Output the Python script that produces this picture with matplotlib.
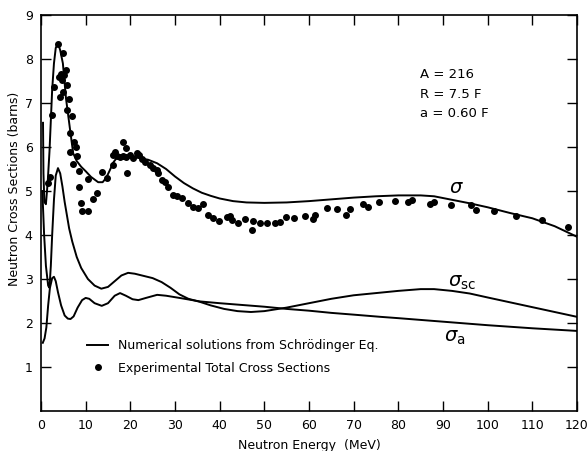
import numpy as np
import matplotlib
matplotlib.use('Agg')
import matplotlib.pyplot as plt

# total cross section (calculated)
tot_e = [0.45, 0.55, 0.75, 1.1, 1.5, 1.9, 2.2, 2.5, 2.9, 3.3, 3.8, 4.3, 4.9, 5.6, 6.5, 7.2,
         8.0, 9.0, 10.0, 11.2, 12.8, 13.8, 14.6, 15.4, 16.2, 17.0, 18.0, 20.0, 22.0, 24.0,
         26.0, 28.0, 30.0, 32.0, 34.0, 36.0, 38.0, 40.0, 43.0, 46.0, 50.0, 55.0, 60.0, 65.0,
         70.0, 75.0, 80.0, 85.0, 88.0, 92.0, 96.0, 100.0, 105.0, 110.0, 115.0, 120.0]
tot_s = [6.55, 5.4, 4.75, 4.7, 5.2, 5.9, 6.6, 7.3, 7.9, 8.25, 8.36, 8.2, 7.9, 7.1, 6.4, 5.86,
         5.68, 5.55, 5.45, 5.32, 5.2, 5.2, 5.3, 5.47, 5.65, 5.76, 5.8, 5.78, 5.75, 5.71,
         5.63, 5.5, 5.33, 5.18, 5.06, 4.96, 4.89, 4.83, 4.77, 4.74, 4.73, 4.74, 4.77, 4.81,
         4.85, 4.88, 4.9, 4.9, 4.88, 4.8, 4.72, 4.63, 4.5, 4.38, 4.2, 3.96]

# scattering cross section
sc_e = [0.3, 0.7, 1.1, 1.6, 1.9, 2.2, 2.5, 2.9, 3.3, 3.8, 4.3, 4.8, 5.3, 5.8, 6.3, 7.0,
        8.0, 9.0, 10.5, 12.0, 13.5, 15.0, 16.5, 18.0, 19.5, 21.0, 23.0, 25.0, 27.0, 29.0,
        31.0, 33.0, 35.6, 38.0, 41.0, 44.0, 47.0, 50.0, 55.0, 60.0, 65.0, 70.0, 75.0, 80.0,
        85.0, 88.0, 92.0, 96.0, 100.0, 105.0, 110.0, 115.0, 120.0]
sc_s = [5.0, 4.0, 3.3, 2.85, 2.8, 3.3, 4.0, 4.8, 5.35, 5.52, 5.4, 5.1, 4.75, 4.45, 4.15, 3.85,
        3.5, 3.25, 3.0, 2.85, 2.78, 2.82, 2.95, 3.08, 3.14, 3.12, 3.07, 3.02, 2.93, 2.8,
        2.65, 2.55, 2.48, 2.4, 2.32, 2.27, 2.25, 2.27, 2.35, 2.45, 2.55, 2.63, 2.68, 2.73,
        2.77, 2.77, 2.73, 2.67, 2.58, 2.47, 2.36, 2.25, 2.14]

# absorption cross section
ab_e = [0.4, 0.8, 1.2, 1.6, 2.0, 2.5, 2.9, 3.3, 3.8, 4.5, 5.3, 6.0, 6.6, 7.3, 8.2, 9.2,
        10.0, 10.8, 12.0, 13.6, 15.0, 16.5, 17.7, 19.0, 20.5, 21.8, 23.5, 26.0, 28.0, 31.0,
        35.6, 40.0, 45.0, 50.0, 55.0, 60.0, 65.0, 70.0, 76.0, 80.0, 90.0, 100.0, 110.0, 120.0]
ab_s = [1.55, 1.65, 1.9, 2.4, 2.8, 3.02, 3.05, 2.95, 2.7, 2.4, 2.17, 2.1, 2.09, 2.15, 2.35, 2.52,
        2.57, 2.55, 2.45, 2.39, 2.45, 2.62, 2.68, 2.62, 2.54, 2.52, 2.57, 2.64, 2.62, 2.57,
        2.49, 2.45, 2.41, 2.37, 2.32, 2.28, 2.23, 2.19, 2.14, 2.11, 2.03, 1.95, 1.88, 1.82]

# experimental total cross sections
exp_e = [1.57, 2.01, 2.46, 2.91, 3.81, 4.86, 4.37, 3.92, 5.15, 4.70, 5.60, 5.82, 4.93, 4.25,
         6.38, 5.71, 6.83, 6.49, 7.39, 7.84, 6.49, 8.13, 7.10, 8.57, 8.51, 10.59, 8.95, 9.18,
         10.59, 11.57, 12.47, 13.59, 14.71, 16.12, 18.29, 19.03, 19.25, 16.12, 16.57, 17.01,
         17.69, 18.36, 19.03, 19.92, 20.60, 21.49, 21.94, 22.61, 23.28, 24.40, 25.07, 25.97,
         26.19, 27.09, 27.76, 28.43, 29.55, 30.44, 31.56, 32.91, 34.03, 35.15, 36.27, 37.38,
         38.50, 39.85, 41.64, 42.31, 42.76, 44.10, 45.67, 47.24, 47.46, 49.03, 50.59, 52.38,
         53.50, 54.85, 56.64, 59.10, 60.89, 61.34, 64.03, 66.26, 68.28, 69.17, 72.08, 73.20,
         75.67, 79.25, 82.16, 83.05, 87.08, 87.98, 91.78, 96.26, 97.38, 101.41, 106.33,
         112.15, 117.97]
exp_s = [5.18, 5.32, 6.73, 7.36, 8.34, 8.14, 7.66, 7.59, 7.64, 7.52, 7.75, 7.41, 7.25, 7.14,
         7.09, 6.84, 6.70, 6.32, 6.11, 6.00, 5.89, 5.80, 5.61, 5.45, 5.09, 5.27, 4.73, 4.55,
         4.55, 4.82, 4.95, 5.43, 5.30, 5.59, 6.11, 5.98, 5.41, 5.82, 5.89, 5.80,
         5.77, 5.80, 5.77, 5.82, 5.75, 5.86, 5.82, 5.73, 5.66, 5.59, 5.52, 5.48,
         5.41, 5.25, 5.20, 5.09, 4.91, 4.89, 4.84, 4.73, 4.64, 4.61, 4.70, 4.45,
         4.39, 4.32, 4.41, 4.43, 4.34, 4.27, 4.36, 4.11, 4.32, 4.27, 4.27, 4.27,
         4.30, 4.41, 4.39, 4.43, 4.36, 4.45, 4.61, 4.59, 4.45, 4.59, 4.70, 4.64,
         4.75, 4.77, 4.75, 4.80, 4.70, 4.75, 4.68, 4.68, 4.57, 4.55, 4.43,
         4.34, 4.18]

x_ticks = np.arange(0, 121, 10)
y_ticks = np.arange(1, 10, 1)
params = ['A = 216', 'R = 7.5 F', 'a = 0.60 F']


def main():
  plt.rcParams['font.family'] = ['DejaVu Sans']
  fig = plt.figure(figsize=(5.88, 4.51), dpi=100)
  ax = fig.add_axes([41 / 588, 40 / 451, 536 / 588, 396 / 451])

  ln, = ax.plot(tot_e, tot_s, color='black', lw=1.4,
                label='Numerical solutions from Schr\u00f6dinger Eq.')
  ax.plot(sc_e, sc_s, color='black', lw=1.4)
  ax.plot(ab_e, ab_s, color='black', lw=1.4)
  pts, = ax.plot(exp_e, exp_s, 'o', color='black', ms=4, ls='none',
                 label='Experimental Total Cross Sections')

  ax.set_xlim(0, 120)
  ax.set_ylim(0, 9)
  ax.set_xticks(x_ticks)
  ax.set_yticks(y_ticks)
  ax.tick_params(direction='in', length=7, width=1, top=True, right=True,
                 labelsize=9, pad=6)
  for s in ax.spines.values():
    s.set_linewidth(1.2)

  ax.set_xlabel('Neutron Energy  (MeV)', fontsize=9, labelpad=5)
  ax.set_ylabel('Neutron Cross Sections (barns)', fontsize=9)
  ax.yaxis.set_label_coords(-0.038, 0.56)

  ax.text(93.1, 5.07, r'$\sigma$', fontsize=14, ha='center', va='center')
  ax.text(94.2, 2.91, r'$\sigma_{\rm sc}$', fontsize=14, ha='center', va='center')
  ax.text(92.7, 1.68, r'$\sigma_{\rm a}$', fontsize=14, ha='center', va='center')

  for i, t in enumerate(params):
    ax.text(84.8, 7.64 - 0.44 * i, t, fontsize=9.5, ha='left', va='center')

  ax.legend(handles=[ln, pts], frameon=False, loc='center left',
            bbox_to_anchor=(0.086, 0.136), fontsize=9, handlelength=1.7,
            handletextpad=0.8, labelspacing=0.75, borderpad=0, borderaxespad=0)

  fig.savefig('out.png', dpi=100)


if __name__ == '__main__':
  main()
